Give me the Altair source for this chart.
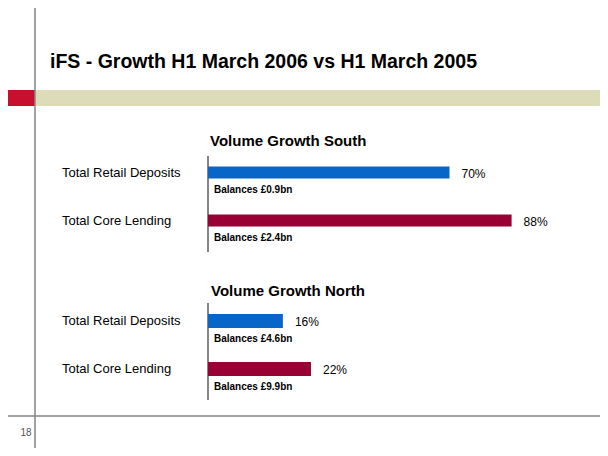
import altair as alt
import pandas as pd

# ---- data ----
title_text = "iFS - Growth H1 March 2006 vs H1 March 2005"
page_number = "18"
sections = ["Volume Growth South", "Volume Growth North"]
categories = ["Total Retail Deposits", "Total Core Lending"]
south_growth = [70, 88]
north_growth = [16, 22]
south_balances = ["Balances £0.9bn", "Balances £2.4bn"]
north_balances = ["Balances £4.6bn", "Balances £9.9bn"]

BLUE = "#0866c8"
CRIMSON = "#990033"
RED = "#c8102e"
BEIGE = "#dcdcb9"
GRAY = "#858585"
FONT = "Liberation Sans"

dummy = pd.DataFrame({"a": [0]})


def deco_rect(x, x2, y, y2, color):
    return alt.Chart(dummy).mark_rect(color=color).encode(
        x=alt.value(x), x2=alt.value(x2), y=alt.value(y), y2=alt.value(y2))


def deco_rule(x, x2, y, y2, color, w):
    return alt.Chart(dummy).mark_rule(color=color, strokeWidth=w).encode(
        x=alt.value(x), x2=alt.value(x2), y=alt.value(y), y2=alt.value(y2))


def deco_text(txt, x, y, size, weight="normal", font=FONT, color="#000000", baseline="alphabetic", align="left"):
    return alt.Chart(dummy).mark_text(text=txt, font=font, fontSize=size, fontWeight=weight,
                                      color=color, baseline=baseline, align=align).encode(
        x=alt.value(x), y=alt.value(y))


decor = [
    deco_rect(0, 27, 82, 98, RED),
    deco_rect(27, 592, 82, 98, BEIGE),
    deco_rule(27, 27, 0, 440, GRAY, 1.5),
    deco_rule(0, 592, 408, 408, GRAY, 1.5),
    deco_text(title_text, 42, 60, 19.5, "bold"),
    deco_text(page_number, 18, 425, 10, color="#555555", baseline="middle", align="center"),
    deco_text(sections[0], 202, 138, 15, "bold"),
    deco_text(sections[1], 203, 288, 15, "bold"),
    deco_rule(200, 200, 148, 244, GRAY, 2),
    deco_rule(200, 200, 295, 392, GRAY, 2),
]


def section(growth, balances, xrange, yrange, pad_inner):
    df = pd.DataFrame({
        "category": categories,
        "growth": growth,
        "balance": balances,
        "label": [f"{g}%" for g in growth],
    })
    xs = alt.Scale(domain=[0, 100], range=xrange, zero=True, nice=False)
    ys = alt.Scale(domain=categories, range=yrange, paddingInner=pad_inner, paddingOuter=0)
    base = alt.Chart(df)
    bars = base.mark_bar().encode(
        x=alt.X("growth:Q", scale=xs, axis=None, stack=None),
        y=alt.Y("category:N", scale=ys, axis=None),
        color=alt.Color("category:N", scale=alt.Scale(domain=categories, range=[BLUE, CRIMSON]), legend=None),
    )
    pct = base.mark_text(align="left", baseline="middle", dx=12, dy=1, font=FONT, fontSize=12, color="#000000").encode(
        x=alt.X("growth:Q", scale=xs, axis=None),
        y=alt.Y("category:N", scale=ys, axis=None),
        text="label:N",
    )
    bal = base.mark_text(align="left", baseline="middle", dy=17.5, font=FONT, fontSize=10, fontWeight="bold",
                         color="#000000").encode(
        x=alt.value(206),
        y=alt.Y("category:N", scale=ys, axis=None),
        text="balance:N",
    )
    lbl = base.mark_text(align="left", baseline="middle", font=FONT, fontSize=13, color="#000000").encode(
        x=alt.value(54),
        y=alt.Y("category:N", scale=ys, axis=None),
        text="category:N",
    )
    return alt.layer(bars, pct, bal, lbl)


south = section(south_growth, south_balances, [200, 545], [158.5, 218.5], 0.75)
north = section(north_growth, north_balances, [200, 668], [306, 368], 1 - 14 / 48)

chart = alt.layer(*decor, south, north).resolve_scale(
    x="independent", y="independent"
).properties(
    width=592, height=440,
    autosize=alt.AutoSizeParams(type="none"),
    padding=0,
).configure_view(stroke=None)

chart.save("out.html", embed_options={"renderer": "svg", "actions": False})
